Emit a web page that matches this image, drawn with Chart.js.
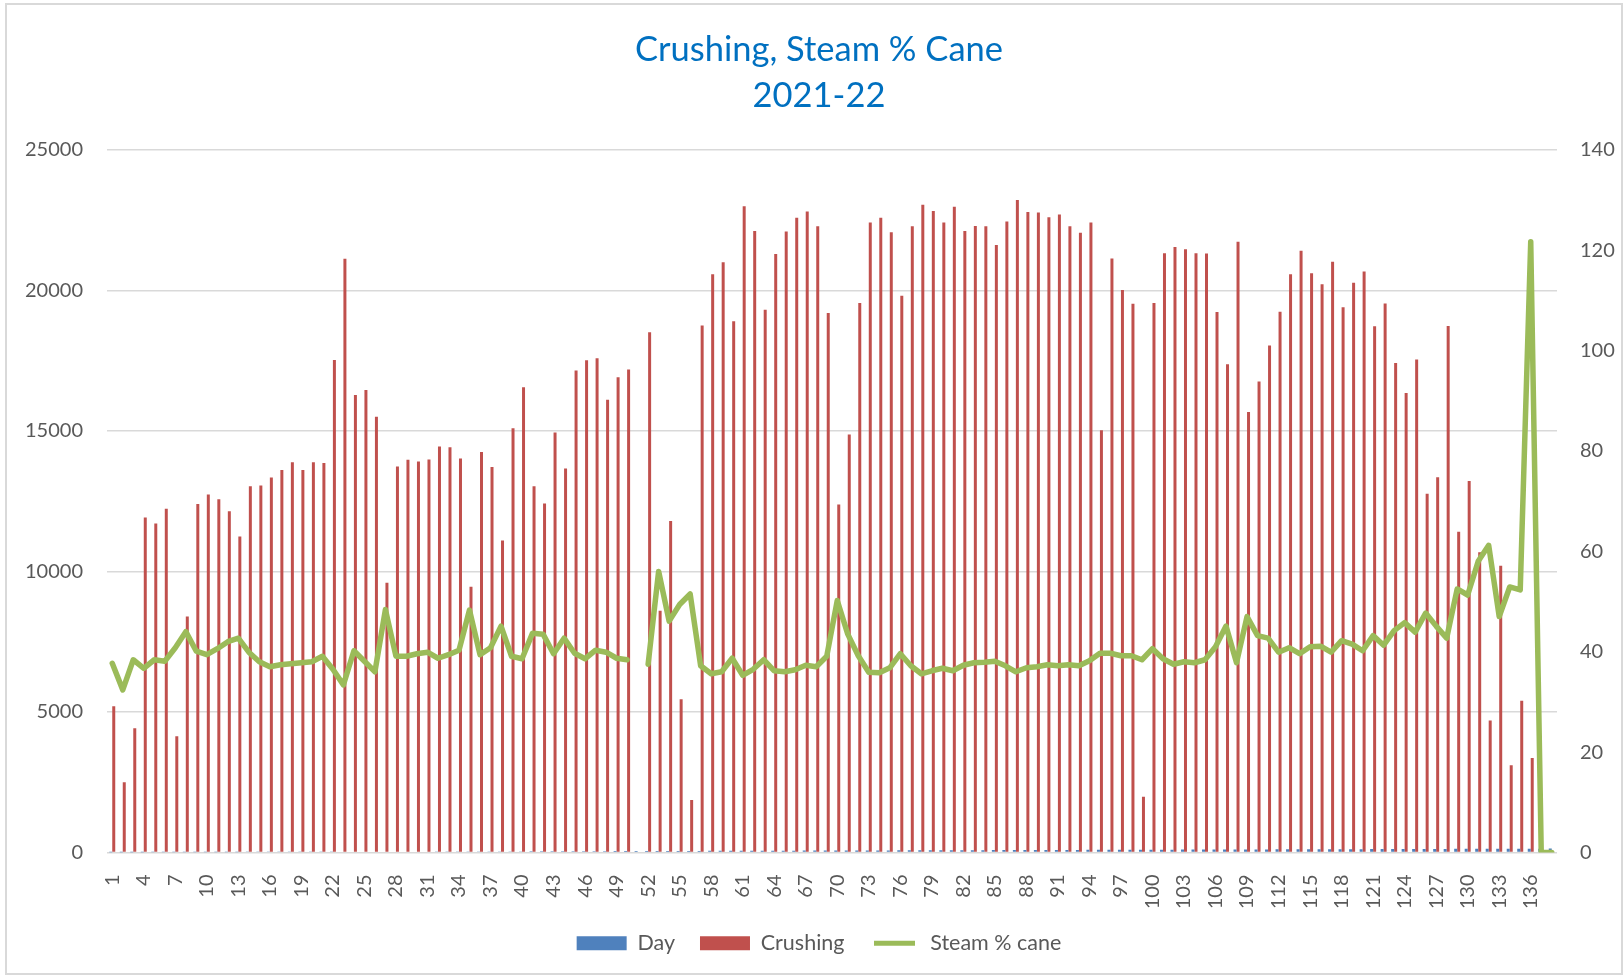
<!DOCTYPE html>
<html>
<head>
<meta charset="utf-8">
<script src="https://cdn.jsdelivr.net/npm/chart.js@4.4.1/dist/chart.umd.min.js"></script>
<style>
  body { margin: 0; background: #fff; }
  #frame { position: absolute; left: 5px; top: 3px; width: 1614px; height: 968px; border: 2px solid #d9d9d9; }
  #chart { position: absolute; left: 0; top: 0; }
</style>
</head>
<body>
<div id="frame"></div>
<canvas id="chart" width="1624" height="977"></canvas>
<script>
// day numbers (blue "Day" series, also used as the category labels)
const days = [
  1, 2, 3, 4, 5, 6, 7, 8, 9, 10, 11, 12, 13, 14, 15, 16, 17, 18, 19, 20,
  21, 22, 23, 24, 25, 26, 27, 28, 29, 30, 31, 32, 33, 34, 35, 36, 37, 38, 39, 40,
  41, 42, 43, 44, 45, 46, 47, 48, 49, 50, 51, 52, 53, 54, 55, 56, 57, 58, 59, 60,
  61, 62, 63, 64, 65, 66, 67, 68, 69, 70, 71, 72, 73, 74, 75, 76, 77, 78, 79, 80,
  81, 82, 83, 84, 85, 86, 87, 88, 89, 90, 91, 92, 93, 94, 95, 96, 97, 98, 99, 100,
  101, 102, 103, 104, 105, 106, 107, 108, 109, 110, 111, 112, 113, 114, 115, 116, 117, 118, 119, 120,
  121, 122, 123, 124, 125, 126, 127, 128, 129, 130, 131, 132, 133, 134, 135, 136, 137, 138
];

const crushing = [
  5200, 2500, 4420, 11920, 11700, 12230, 4140, 8400, 12400, 12740,
  12570, 12140, 11240, 13030, 13060, 13340, 13610, 13880, 13610, 13880,
  13860, 17520, 21120, 16280, 16450, 15500, 9600, 13730, 13970, 13910,
  13980, 14440, 14420, 14020, 9450, 14250, 13710, 11100, 15090, 16550,
  13030, 12420, 14940, 13660, 17150, 17510, 17580, 16110, 16910, 17180,
  0, 18510, 8600, 11790, 5450, 1870, 18750, 20570, 21000, 18900,
  22990, 22110, 19310, 21290, 22090, 22580, 22800, 22280, 19190, 12380,
  14870, 19550, 22410, 22580, 22070, 19810, 22280, 23040, 22820, 22410,
  22970, 22110, 22290, 22280, 21610, 22450, 23210, 22790, 22770, 22600,
  22700, 22280, 22050, 22410, 15020, 21130, 20010, 19520, 1980, 19550,
  21320, 21540, 21460, 21320, 21310, 19230, 17370, 21730, 15670, 16760,
  18040, 19240, 20570, 21410, 20610, 20220, 21020, 19400, 20270, 20670,
  18720, 19530, 17410, 16350, 17540, 12760, 13350, 18730, 11410, 13220,
  10680, 4700, 10200, 3100, 5400, 3360, 0, 0
];

const steamPctCane = [
  37.7, 32.4, 38.4, 36.7, 38.4, 38.1, 40.8, 44.0, 40.1, 39.4,
  40.6, 42.0, 42.7, 39.9, 38.0, 37.0, 37.4, 37.6, 37.8, 38.0,
  39.1, 36.5, 33.4, 40.2, 38.1, 36.0, 48.4, 39.1, 39.1, 39.6,
  39.9, 38.7, 39.4, 40.3, 48.3, 39.4, 40.8, 45.1, 39.1, 38.6,
  43.7, 43.5, 39.6, 42.7, 39.7, 38.6, 40.3, 39.9, 38.7, 38.4,
  null, 37.5, 56.0, 46.1, 49.4, 51.5, 37.2, 35.6, 36.0, 38.7,
  35.3, 36.5, 38.4, 36.2, 36.0, 36.4, 37.3, 37.0, 39.1, 50.2,
  43.5, 39.2, 35.9, 35.8, 36.8, 39.6, 37.2, 35.6, 36.2, 36.7,
  36.2, 37.3, 37.8, 37.9, 38.1, 37.2, 36.0, 36.8, 37.0, 37.4,
  37.2, 37.4, 37.2, 38.2, 39.7, 39.7, 39.2, 39.2, 38.4, 40.6,
  38.6, 37.5, 38.0, 37.8, 38.4, 41.0, 45.1, 37.8, 47.0, 43.2,
  42.7, 39.9, 40.8, 39.6, 41.0, 41.1, 39.9, 42.2, 41.5, 40.2,
  43.2, 41.3, 44.2, 45.8, 43.9, 47.7, 45.1, 42.7, 52.5, 51.3,
  58.0, 61.2, 47.0, 52.9, 52.3, 121.7, 0, 0
];

const leftTicks = [0, 5000, 10000, 15000, 20000, 25000];
const rightTicks = [0, 20, 40, 60, 80, 100, 120, 140];

const labels = days.map(String);
const tickColor = "#595959";
const gridColor = "#d9d9d9";
const fontFamily = "Lato, 'Open Sans', sans-serif";

const ctx = document.getElementById("chart").getContext("2d");

new Chart(ctx, {
    type: "bar",
    data: {
        labels: labels,
        datasets: [
            {
                label: "Day",
                data: days,
                backgroundColor: "#4f81bd",
                yAxisID: "y",
                order: 1
            },
            {
                label: "Crushing",
                data: crushing,
                backgroundColor: "#c0504d",
                yAxisID: "y",
                order: 1
            },
            {
                type: "line",
                label: "Steam % cane",
                data: steamPctCane,
                borderColor: "#9bbb59",
                backgroundColor: "#9bbb59",
                borderWidth: 5.5,
                pointRadius: 0,
                tension: 0,
                spanGaps: false,
                borderJoinStyle: "round",
                borderCapStyle: "round",
                yAxisID: "y1",
                order: 0
            }
        ]
    },
    options: {
        responsive: false,
        animation: false,
        categoryPercentage: 0.57,
        barPercentage: 1.0,
        // left padding nudges the title/legend centre to the right like the original
        layout: { padding: { left: 14, right: 0, top: 0, bottom: 13 } },
        plugins: {
            tooltip: { enabled: false },
            title: {
                display: true,
                text: ["Crushing, Steam % Cane", "2021-22"],
                color: "#0070c0",
                font: { family: fontFamily, size: 34.5, weight: "normal", lineHeight: 1.33 },
                padding: { top: 27, bottom: 31 }
            },
            legend: {
                position: "bottom",
                labels: {
                    color: tickColor,
                    font: { family: fontFamily, size: 21.5 },
                    boxWidth: 50,
                    boxHeight: 14,
                    padding: 25,
                    sort: (a, b) => a.datasetIndex - b.datasetIndex,
                    generateLabels(chart) {
                        const items = Chart.defaults.plugins.legend.labels.generateLabels(chart);
                        items.forEach(item => {
                            if (item.datasetIndex === 2) {
                                // thin line symbol: white stroke trims the box to a 5px bar
                                item.fillStyle = "#9bbb59";
                                item.strokeStyle = "#ffffff";
                                item.lineWidth = 9;
                            } else {
                                item.lineWidth = 0;
                            }
                        });
                        return items;
                    }
                }
            }
        },
        scales: {
            x: {
                grid: { display: false },
                border: { display: false },
                ticks: {
                    color: tickColor,
                    font: { family: fontFamily, size: 20 },
                    autoSkip: false,
                    maxRotation: 90,
                    minRotation: 90,
                    padding: 14,
                    callback: function (value, index) {
                        return index % 3 === 0 ? labels[index] : "";
                    }
                },
                afterFit(scale) { scale.height = 55; }
            },
            y: {
                position: "left",
                min: 0,
                max: 25000,
                afterBuildTicks(scale) { scale.ticks = leftTicks.map(v => ({ value: v })); },
                grid: { color: gridColor, lineWidth: 1.5, drawTicks: false },
                border: { display: false },
                ticks: {
                    color: tickColor,
                    font: { family: fontFamily, size: 20 },
                    padding: 24,
                    callback: v => String(v)
                },
                afterFit(scale) { scale.width = 93; }
            },
            y1: {
                position: "right",
                min: 0,
                max: 140,
                afterBuildTicks(scale) { scale.ticks = rightTicks.map(v => ({ value: v })); },
                grid: { drawOnChartArea: false, drawTicks: false },
                border: { display: false },
                ticks: {
                    color: tickColor,
                    font: { family: fontFamily, size: 20 },
                    padding: 23,
                    callback: v => String(v)
                },
                afterFit(scale) { scale.width = 67; }
            }
        }
    }
});
</script>
</body>
</html>
